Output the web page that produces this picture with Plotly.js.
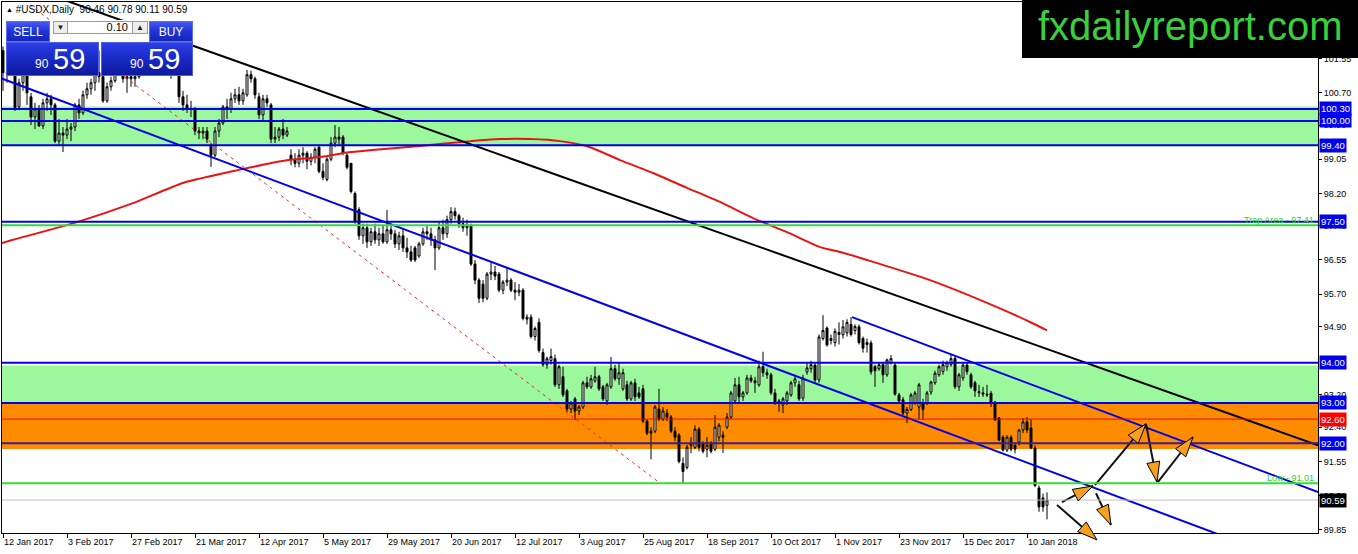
<!DOCTYPE html>
<html><head><meta charset="utf-8">
<script src="https://cdn.plot.ly/plotly-3.0.1.min.js"></script>
<style>
html,body{margin:0;padding:0;background:#fff;overflow:hidden;}
#wrap{position:relative;width:1358px;height:554px;}
#chart{position:absolute;left:0;top:0;width:1358px;height:554px;}
.ov{position:absolute;font-family:"Liberation Sans",Arial,sans-serif;box-sizing:border-box;}
.hd{background:linear-gradient(to bottom,#4557f2 0%,#2235d8 45%,#1626b8 100%);color:#fff;font-size:12px;text-align:center;line-height:21px;border:1px solid #5d6cf0;}
.big{background:linear-gradient(to bottom,#2c3ee6 0%,#1a2bc8 45%,#0e1a9c 100%);color:#fff;border:1px solid #4d5ee8;}
.btn{background:#eeeeee;border:1px solid #9a9a9a;font-size:8px;line-height:11px;text-align:center;color:#222;}
.inp{background:#fff;border:1px solid #9a9a9a;font-size:11px;line-height:11px;text-align:right;padding-right:4px;color:#000;}
.sm{position:absolute;font-size:12px;line-height:12px;}
.lg{position:absolute;font-size:29px;line-height:29px;}
</style></head><body>
<div id="wrap">
<div id="chart"></div>
<div class="ov" style="left:6px;top:4px;font-size:10px;line-height:12px;color:#000;white-space:pre;"><span style="font-size:7px;vertical-align:1px;">▲</span> #USDX,Daily  90.46 90.78 90.11 90.59</div>
<div class="ov" style="left:49px;top:20px;width:101px;height:22px;background:#fff;"></div>
<div class="ov hd" style="left:6px;top:21px;width:44px;height:21px;">SELL</div>
<div class="ov btn" style="left:53px;top:21px;width:15px;height:13px;">▼</div>
<div class="ov inp" style="left:67px;top:21px;width:66px;height:13px;">0.10</div>
<div class="ov btn" style="left:132px;top:21px;width:16px;height:13px;">▲</div>
<div class="ov hd" style="left:149px;top:21px;width:44px;height:21px;">BUY</div>
<div class="ov big" style="left:6px;top:42px;width:93px;height:34px;"><span class="sm" style="left:28px;top:15px;">90</span><span class="lg" style="left:46px;top:2px;">59</span></div>
<div class="ov big" style="left:101px;top:42px;width:92px;height:34px;"><span class="sm" style="left:28px;top:15px;">90</span><span class="lg" style="left:46px;top:2px;">59</span></div>
<div class="ov" style="left:1022px;top:0px;width:336px;height:58px;background:#000;"><span style="position:absolute;left:16px;top:6px;font-size:40px;line-height:40px;color:#3ccf3c;white-space:nowrap;">fxdailyreport.com</span></div>
</div>
<script>
// ---- candles (bar index = trading day from 12 Jan 2017) ----
const openP = [101.75,101.20,101.40,101.30,100.35,100.95,101.15,100.60,100.10,100.30,
99.88,100.45,100.55,100.40,99.50,99.70,99.65,99.80,99.85,100.40,
100.20,100.65,100.80,100.95,101.20,101.10,100.50,100.85,101.00,101.55,
101.50,101.05,101.10,101.05,101.10,101.75,102.05,101.40,101.30,101.85,
102.05,102.00,101.30,101.20,101.70,100.60,100.40,100.30,100.30,99.75,
99.70,99.75,99.40,99.15,99.75,99.95,100.35,100.30,100.55,100.65,
100.50,100.65,101.15,101.05,100.60,100.15,100.55,100.40,99.55,99.60,
99.80,99.65,99.15,99.05,98.95,99.15,99.20,99.00,99.10,99.35,
98.75,98.55,99.05,99.45,99.60,99.60,99.15,98.95,98.20,97.80,
97.15,97.35,97.00,97.25,97.05,97.20,97.00,97.30,97.20,96.95,
97.15,96.85,96.75,96.85,96.65,96.95,97.25,97.20,97.05,96.85,
97.35,97.20,97.55,97.75,97.65,97.45,97.35,97.40,96.45,96.05,
95.95,95.60,96.20,96.25,96.20,95.80,96.00,96.05,95.80,95.75,
95.80,95.08,95.13,94.65,95.00,94.25,93.95,94.05,94.10,93.45,
93.65,93.30,92.85,93.10,92.80,92.90,93.50,93.40,93.55,93.65,
93.40,93.05,93.40,93.85,93.60,93.35,93.45,93.10,93.50,93.25,
93.35,92.55,92.25,92.30,92.85,92.60,92.75,92.65,92.30,92.20,
91.50,91.40,91.95,91.90,92.35,92.00,91.85,92.00,91.85,92.15,
92.20,92.40,92.65,93.05,93.45,93.15,93.25,93.62,93.55,93.45,
93.90,93.75,93.70,93.25,93.00,92.95,93.05,93.20,93.50,93.45,
93.12,93.77,93.85,93.94,93.57,94.60,94.86,94.55,94.50,94.70,
94.69,94.74,94.95,94.80,94.89,94.60,94.45,94.49,93.90,93.85,
93.95,93.70,94.00,93.94,93.20,93.08,92.75,92.84,93.00,92.90,
93.00,93.00,93.27,93.50,93.70,93.78,93.90,93.95,94.11,93.40,
93.62,93.94,93.70,93.50,93.25,93.25,93.22,93.24,93.02,92.63,
92.15,91.83,92.15,91.95,92.03,92.33,92.53,92.38,91.88,90.89,
90.64,90.46];
const highP = [101.85,101.50,101.65,101.35,101.05,101.25,101.20,100.70,100.45,100.40,
100.55,100.70,100.65,100.45,100.05,99.85,100.05,99.95,100.45,100.55,
100.75,100.95,101.05,101.30,101.75,101.15,100.95,101.10,101.65,101.80,
101.55,101.20,101.30,101.60,101.90,102.25,102.20,101.55,101.95,102.10,
102.25,102.05,101.45,101.75,101.75,100.75,100.65,100.50,100.35,99.85,
99.85,99.85,99.45,99.85,100.05,100.40,100.55,100.70,100.80,100.85,
100.80,101.27,101.25,101.10,100.70,100.65,100.65,100.45,99.85,99.85,
100.05,99.85,99.30,99.20,99.30,99.35,99.25,99.20,99.35,99.40,
98.95,99.10,99.60,99.90,99.85,99.65,99.20,98.95,98.25,97.86,
97.45,97.45,97.35,97.45,97.35,97.40,97.79,97.45,97.30,97.25,
97.30,97.10,96.90,96.90,97.00,97.35,97.40,97.35,97.15,97.50,
97.55,97.65,97.86,97.85,97.70,97.60,97.55,97.45,96.55,96.10,
96.05,96.25,96.48,96.40,96.25,96.05,96.35,96.10,96.00,95.95,
95.85,95.20,95.20,94.90,95.10,94.35,94.15,94.35,94.20,93.95,
93.90,93.35,93.05,93.15,92.95,93.55,93.65,93.70,93.90,93.70,
93.45,93.50,94.14,93.95,94.00,93.85,93.55,93.55,93.60,93.40,
93.45,92.60,92.40,92.95,93.35,92.90,92.85,92.70,92.40,92.25,
91.65,91.96,92.15,92.45,92.40,92.05,92.15,92.05,92.70,92.50,
92.30,92.75,93.30,93.62,93.65,93.30,93.70,93.70,93.65,94.05,
94.27,93.85,93.75,93.35,93.10,93.15,93.30,93.55,93.70,93.55,
93.70,94.00,94.05,94.00,94.70,95.18,94.90,94.70,94.85,95.00,
95.06,95.08,95.13,94.95,94.95,94.65,94.60,94.55,93.95,94.00,
94.00,94.10,94.19,94.00,93.25,93.15,92.90,93.25,93.30,93.50,
93.10,93.30,93.55,93.80,93.95,94.05,94.05,94.22,94.15,93.75,
94.00,94.00,93.75,93.55,93.45,93.40,93.45,93.30,93.05,92.65,
92.20,92.20,92.20,92.00,92.35,92.63,92.65,92.60,91.95,90.95,
90.75,90.78];
const lowP = [100.75,100.95,101.15,100.25,100.30,100.75,100.40,99.90,99.80,99.85,
99.80,100.25,100.15,99.45,99.40,99.23,99.55,99.50,99.75,100.05,
100.15,100.55,100.65,100.75,100.95,100.45,100.45,100.75,100.95,101.20,
100.95,100.70,100.85,100.85,101.05,101.65,101.30,101.15,101.20,101.70,
101.85,101.20,101.05,101.15,100.45,100.25,100.20,100.10,99.65,99.55,
99.55,99.45,98.86,99.10,99.60,99.90,100.05,100.20,100.45,100.40,
100.40,100.60,100.95,100.55,100.05,100.00,100.35,99.45,99.45,99.50,
99.55,99.60,98.90,98.85,98.85,98.95,98.80,98.90,98.95,98.70,
98.53,98.50,99.00,99.35,99.40,99.15,98.80,98.20,97.45,97.05,
96.95,96.85,96.90,96.95,96.90,96.95,96.95,97.05,96.85,96.80,
96.75,96.60,96.50,96.50,96.60,96.90,97.05,96.90,96.30,96.80,
97.05,97.10,97.45,97.55,97.35,97.25,97.15,96.40,95.95,95.48,
95.50,95.55,96.05,96.05,95.75,95.70,95.90,95.75,95.55,95.65,
95.05,94.95,94.60,94.55,94.25,93.90,93.85,93.95,93.40,93.35,
93.15,92.78,92.75,92.58,92.70,92.85,93.35,93.35,93.50,93.30,
93.05,92.95,93.35,93.55,93.45,93.30,93.05,93.05,93.05,93.10,
92.50,92.20,91.60,92.25,92.55,92.55,92.55,92.25,92.05,91.50,
91.01,91.35,91.75,91.85,91.80,91.75,91.65,91.75,91.80,92.05,
91.76,92.35,92.60,93.00,93.00,93.05,93.20,93.50,93.25,93.40,
93.65,93.60,93.20,92.95,92.78,92.75,92.95,93.15,93.40,93.05,
93.05,93.70,93.75,93.50,93.50,94.55,94.40,94.45,94.40,94.45,
94.60,94.65,94.65,94.70,94.45,94.25,94.25,93.70,93.40,93.80,
93.50,93.65,93.95,93.18,93.00,92.70,92.50,92.80,92.95,92.60,
92.58,92.95,93.20,93.45,93.65,93.70,93.80,93.90,93.35,93.30,
93.55,93.70,93.35,93.15,93.15,93.15,93.15,92.90,92.55,92.05,
91.80,91.78,91.80,91.75,91.95,92.25,92.25,91.85,90.91,90.30,
90.30,90.11];
const closeP = [101.20,101.18,101.30,100.33,100.95,101.15,100.70,100.10,100.30,99.88,
100.45,100.55,100.40,99.50,99.70,99.65,99.80,99.85,100.40,100.20,
100.65,100.80,100.95,101.20,101.10,100.50,100.85,101.00,101.55,101.50,
101.05,101.10,101.05,101.10,101.75,102.05,101.40,101.30,101.85,102.05,
102.00,101.30,101.20,101.70,100.60,100.40,100.30,100.30,99.75,99.70,
99.75,99.55,99.15,99.75,99.95,100.35,100.30,100.55,100.65,100.50,
100.70,101.15,101.05,100.65,100.15,100.55,100.45,99.55,99.60,99.80,
99.65,99.75,99.05,98.95,99.15,99.20,99.00,99.10,99.30,98.75,
98.60,99.05,99.45,99.60,99.55,99.20,98.85,98.25,97.50,97.15,
97.35,97.00,97.25,97.05,97.20,97.00,97.30,97.20,96.95,97.15,
96.85,96.75,96.55,96.55,96.95,97.25,97.20,97.05,96.85,97.35,
97.20,97.55,97.75,97.65,97.45,97.35,97.40,96.45,96.05,95.60,
95.60,96.20,96.25,96.15,95.80,96.00,96.05,95.80,95.75,95.80,
95.10,95.13,94.65,94.85,94.30,93.95,94.10,94.15,93.45,93.90,
93.20,92.85,93.00,92.80,92.90,93.50,93.40,93.60,93.65,93.35,
93.10,93.45,93.85,93.60,93.75,93.75,93.10,93.50,93.15,93.15,
92.55,92.25,92.30,92.90,92.60,92.80,92.65,92.30,92.15,91.55,
91.30,91.90,92.00,92.35,91.90,91.80,91.95,91.80,92.40,92.45,
92.15,92.65,93.25,93.45,93.15,93.25,93.62,93.55,93.50,93.90,
93.75,93.70,93.25,93.00,93.05,93.10,93.25,93.50,93.60,93.10,
93.62,93.87,93.95,93.57,94.64,94.80,94.44,94.60,94.78,94.75,
94.89,95.00,94.70,94.90,94.50,94.36,94.50,93.77,93.80,93.95,
93.70,94.07,94.10,93.22,93.05,92.75,92.84,93.20,93.25,93.45,
92.84,93.25,93.52,93.74,93.90,93.95,94.00,94.10,93.40,93.70,
93.94,93.78,93.40,93.30,93.28,93.22,93.20,93.00,92.58,92.08,
91.83,92.15,91.85,91.85,92.33,92.53,92.33,91.88,90.95,90.42,
90.42,90.59];
const barIdx = closeP.map((_, i) => i);

// ---- x axis date labels (every 16 bars) ----
const dateTickIdx = [0,16,32,48,64,80,96,112,128,144,160,176,192,208,224,240,256];
const dateTickText = ['12 Jan 2017','3 Feb 2017','27 Feb 2017','21 Mar 2017','12 Apr 2017','5 May 2017','29 May 2017','20 Jun 2017','12 Jul 2017','3 Aug 2017','25 Aug 2017','18 Sep 2017','10 Oct 2017','1 Nov 2017','23 Nov 2017','15 Dec 2017','10 Jan 2018'];
// ---- price axis labels ----
const priceTicks = [89.85,90.70,91.55,92.40,93.20,94.90,95.70,96.55,97.40,98.20,99.05,99.90,100.70,101.55];

// ---- moving average ----
const maIdx = [-1,2.5,18.5,32.5,45,58.75,71.25,79.75,85.5,92.25,104.25,116.75,124.25,131.75,139.25,146.75,154.25,162.5,171,179.25,187.5,196,204.25,209.25,216,231.75,248.5,256.75,261];
const maVal = [96.95,97.05,97.49,97.96,98.46,98.78,99.03,99.11,99.21,99.28,99.38,99.50,99.55,99.55,99.50,99.35,99.03,98.71,98.34,97.99,97.59,97.24,96.87,96.75,96.55,96.05,95.38,95.01,94.80];

// ---- drawn trend lines (bar index, price) ----
const blackTrendIdx = [16, 328.75];  const blackTrendPrice = [102.98, 91.95];
const blueLongIdx = [-1, 310];       const blueLongPrice = [101.08, 89.51];
const blueShortIdx = [212.25, 328.75]; const blueShortPrice = [95.13, 90.79];
const redDashIdx = [6.75, 164.25];   const redDashPrice = [102.88, 91.01];

// ---- projection arrows ----
const arrowFromIdx = [264.75, 273.0, 285.75, 288.75, 273.25, 263.5];
const arrowFromPrice = [90.54, 90.96, 92.48, 91.04, 90.76, 90.47];
const arrowToIdx = [272.5, 285.75, 288.5, 297.5, 277.0, 273.5];
const arrowToPrice = [90.94, 92.48, 91.04, 92.155, 89.97, 89.60];

// ---- horizontal levels ----
const greenZone1 = [99.40, 100.36];
const greenZone2 = [93.00, 93.93];
const orangeZone = [91.86, 93.00];
const blueLevels = [100.30, 100.00, 99.40, 97.50, 94.00, 93.00];
const purpleLevel = 92.00;
const greenLevels = [97.41, 91.01];
const redLevel = 92.60;
const bidLevel = 90.59;
const boxVals = [100.30, 100.00, 99.40, 97.50, 94.00, 93.00, 92.60, 92.00, 90.59];
const boxText = ['100.30','100.00','99.40','97.50','94.00','93.00','92.60','92.00','90.59'];
const boxColor = ['#0000f0','#0000f0','#0000f0','#0000f0','#0000f0','#0000f0','#ff0000','#0000f0','#000000'];

const W = 1358, H = 554;
const M = {l:2, r:40, t:2, b:21};
const xRange = [-0.25, 328.75];
const yRange = [89.772, 102.954];
const plotW = W - M.l - M.r, plotH = H - M.t - M.b;
const pxX = plotW / (xRange[1] - xRange[0]);
const pxY = plotH / (yRange[1] - yRange[0]);

const traces = [];
traces.push({
  type:'candlestick', x: barIdx, open: openP, high: highP, low: lowP, close: closeP,
  increasing:{line:{color:'#000', width:1}, fillcolor:'#ffffff'},
  decreasing:{line:{color:'#000', width:1}, fillcolor:'#000000'},
  whiskerwidth:0, hoverinfo:'skip', showlegend:false
});
traces.push({type:'scatter', mode:'lines', x:maIdx, y:maVal, line:{color:'#e81414', width:2, shape:'spline', smoothing:0.6}, hoverinfo:'skip', showlegend:false});
traces.push({type:'scatter', mode:'lines', x:redDashIdx, y:redDashPrice, line:{color:'#ff2020', width:1, dash:'3px,4px'}, hoverinfo:'skip', showlegend:false});
traces.push({type:'scatter', mode:'lines', x:blackTrendIdx, y:blackTrendPrice, line:{color:'#000', width:2}, hoverinfo:'skip', showlegend:false});
traces.push({type:'scatter', mode:'lines', x:blueLongIdx, y:blueLongPrice, line:{color:'#0000e6', width:2}, hoverinfo:'skip', showlegend:false});
traces.push({type:'scatter', mode:'lines', x:blueShortIdx, y:blueShortPrice, line:{color:'#0000e6', width:2}, hoverinfo:'skip', showlegend:false});
const ax = [], ay = [];
for (let i = 0; i < arrowFromIdx.length; i++) {
  ax.push(arrowFromIdx[i], arrowToIdx[i], null);
  ay.push(arrowFromPrice[i], arrowToPrice[i], null);
}
traces.push({type:'scatter', mode:'lines', x:ax, y:ay, line:{color:'#111', width:2}, connectgaps:false, hoverinfo:'skip', showlegend:false});

const shapes = [];
function band(r, c){ shapes.push({type:'rect', xref:'paper', x0:0, x1:1, yref:'y', y0:r[0], y1:r[1], fillcolor:c, line:{width:0}, layer:'below'}); }
band(greenZone1, '#9cf89c');
band(greenZone2, '#9cf89c');
band(orangeZone, '#ff8c00');
function hline(v, c, w){ shapes.push({type:'line', xref:'paper', x0:0, x1:1, yref:'y', y0:v, y1:v, line:{color:c, width:w}, layer:'above'}); }
hline(bidLevel, '#c0c0c0', 1);
hline(redLevel, '#ff0000', 1);
greenLevels.forEach(v => hline(v, '#33dd33', 2));
blueLevels.forEach(v => hline(v, '#0000e6', 2));
hline(purpleLevel, '#3c1c96', 2);

// arrow heads (paper coordinates so they are not clipped at the axis)
const toPaperX = x => (x - xRange[0]) / (xRange[1] - xRange[0]);
const toPaperY = y => (y - yRange[0]) / (yRange[1] - yRange[0]);
for (let i = 0; i < arrowFromIdx.length; i++) {
  const x0 = arrowFromIdx[i], y0 = arrowFromPrice[i], x1 = arrowToIdx[i], y1 = arrowToPrice[i];
  const dx = (x1 - x0) * pxX, dy = -(y1 - y0) * pxY;
  const len = Math.hypot(dx, dy); const ux = dx/len, uy = dy/len; const nx = -uy, ny = ux;
  const L = 20, HW = 6.5;
  const tp = [toPaperX(x1), toPaperY(y1)];
  const off = (ox, oy) => [tp[0] + ox / plotW, tp[1] - oy / plotH];
  const c1 = off(-L*ux + HW*nx, -L*uy + HW*ny);
  const c2 = off(-L*ux - HW*nx, -L*uy - HW*ny);
  shapes.push({type:'path', xref:'paper', yref:'paper', path:`M${tp[0]},${tp[1]} L${c1[0]},${c1[1]} L${c2[0]},${c2[1]} Z`, fillcolor:'#f5a020', line:{color:'#000', width:1}, layer:'above'});
}

const annotations = [];
for (let i = 0; i < boxVals.length; i++) {
  annotations.push({xref:'paper', x:1, xanchor:'left', xshift:1, yref:'y', y:boxVals[i], yanchor:'middle', text:boxText[i], showarrow:false, bgcolor:boxColor[i], borderpad:1, font:{family:'Liberation Sans, Arial, sans-serif', size:9.5, color:'#fff'}});
}
annotations.push({xref:'paper', x:1, xanchor:'right', xshift:-2, yref:'y', y:greenLevels[0], yanchor:'bottom', yshift:-2, text:'Trap Area - 97.41', showarrow:false, font:{family:'Liberation Sans, Arial, sans-serif', size:9, color:'#32cd32'}});
annotations.push({xref:'paper', x:1, xanchor:'right', xshift:-2, yref:'y', y:greenLevels[1], yanchor:'bottom', yshift:-2, text:'Low - 91.01', showarrow:false, font:{family:'Liberation Sans, Arial, sans-serif', size:9, color:'#32cd32'}});

const layout = {
  width:W, height:H, autosize:false,
  margin:{l:M.l, r:M.r, t:M.t, b:M.b, pad:0},
  paper_bgcolor:'#fff', plot_bgcolor:'#fff',
  showlegend:false, dragmode:false, hovermode:false,
  font:{family:'Liberation Sans, Arial, sans-serif', size:9, color:'#000'},
  xaxis:{type:'linear', range:xRange, tickmode:'array', tickvals:dateTickIdx, ticktext:dateTickText,
    ticks:'outside', ticklen:4, tickcolor:'#000', ticklabelposition:'outside right',
    showgrid:false, zeroline:false, showline:true, linecolor:'#000', linewidth:1, mirror:true,
    rangeslider:{visible:false}, fixedrange:true, tickfont:{size:9, color:'#000'}},
  yaxis:{range:yRange, side:'right', tickmode:'array', tickvals:priceTicks, ticktext:priceTicks.map(v => v.toFixed(2)),
    ticks:'outside', ticklen:3, tickcolor:'#000', showgrid:false, zeroline:false,
    showline:true, linecolor:'#000', linewidth:1, mirror:true, fixedrange:true, tickfont:{size:9, color:'#000'}},
  shapes:shapes, annotations:annotations
};
Plotly.newPlot('chart', traces, layout, {displayModeBar:false, staticPlot:true});
</script>
</body></html>
